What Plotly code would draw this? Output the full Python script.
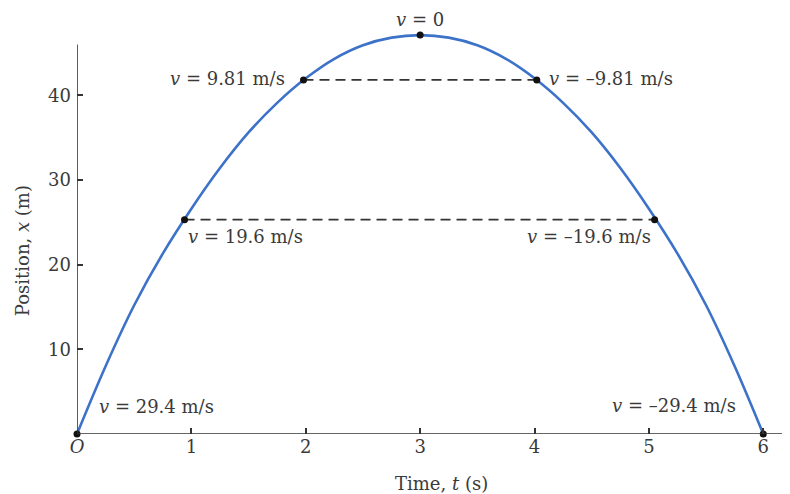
import plotly.graph_objects as go

# Curve samples
t_curve = [0, 0.25, 0.5, 0.75, 1.0, 1.25, 1.5, 1.75, 2.0, 2.25, 2.5, 2.75, 3.0,
           3.25, 3.5, 3.75, 4.0, 4.25, 4.5, 4.75, 5.0, 5.25, 5.5, 5.75, 6.0]
x_curve = [0, 8.0, 15.2, 21.3, 26.6, 31.4, 35.6, 39.1, 42.0, 44.3, 45.9, 46.8, 47.1,
           46.8, 45.9, 44.3, 42.0, 39.1, 35.6, 31.4, 26.6, 21.3, 15.2, 8.0, 0]

# Marked points
t_pts = [0, 0.94, 1.98, 3.0, 4.02, 5.05, 6.0]
x_pts = [0, 25.3, 41.8, 47.1, 41.8, 25.3, 0]
labels = ["<i>v</i> = 29.4 m/s", "<i>v</i> = 19.6 m/s", "<i>v</i> = 9.81 m/s",
          "<i>v</i> = 0", "<i>v</i> = –9.81 m/s", "<i>v</i> = –19.6 m/s",
          "<i>v</i> = –29.4 m/s"]

x_ticks = [0, 1, 2, 3, 4, 5, 6]
x_ticktext = ["<i>O</i>", "1", "2", "3", "4", "5", "6"]
y_ticks = [10, 20, 30, 40]
y_ticktext = ["10", "20", "30", "40"]

FONT = "DejaVu Serif, Liberation Serif, serif"
TXT = "#3a3a3a"
AX = "#333333"
FS = 18

fig = go.Figure()

# dashed connectors
for (i, j) in [(2, 4), (1, 5)]:
    fig.add_trace(go.Scatter(x=[t_pts[i], t_pts[j]], y=[x_pts[i], x_pts[j]], mode="lines",
                             line=dict(color=AX, width=1.8, dash="10px,6px"),
                             hoverinfo="skip", showlegend=False))

fig.add_trace(go.Scatter(x=t_curve, y=x_curve, mode="lines", line_shape="spline",
                         line=dict(color="#3d72c9", width=2.6), showlegend=False))

fig.add_trace(go.Scatter(x=t_pts, y=x_pts, mode="markers",
                         marker=dict(color="#111111", size=7), cliponaxis=False,
                         showlegend=False))

# label placement (anchor, shifts) per point
place = [
    dict(xanchor="left", yanchor="middle", xshift=20, yshift=28),
    dict(xanchor="left", yanchor="middle", xshift=1, yshift=-17),
    dict(xanchor="right", yanchor="middle", xshift=-16, yshift=1),
    dict(xanchor="center", yanchor="middle", xshift=0, yshift=16),
    dict(xanchor="left", yanchor="middle", xshift=10, yshift=1),
    dict(xanchor="right", yanchor="middle", xshift=-2, yshift=-17),
    dict(xanchor="right", yanchor="middle", xshift=-25, yshift=29),
]
for k in range(len(t_pts)):
    fig.add_annotation(x=t_pts[k], y=x_pts[k], text=labels[k], showarrow=False,
                       font=dict(family=FONT, size=FS, color=TXT), **place[k])

# y tick labels, placed on the y scale
for v, s in zip(y_ticks, y_ticktext):
    fig.add_annotation(x=0, xref="paper", y=v, yref="y", text=s, showarrow=False,
                       xanchor="right", yanchor="middle", xshift=-4,
                       font=dict(family=FONT, size=FS, color=TXT))

# axis lines
fig.add_shape(type="line", x0=0, x1=0, y0=0, y1=46, xref="x", yref="y",
              line=dict(color=AX, width=1.6))
fig.add_shape(type="line", x0=0, x1=1, y0=0, y1=0, xref="paper", yref="y",
              line=dict(color=AX, width=1.6))

# axis titles
fig.add_annotation(x=0.5155, y=-0.1206, xref="paper", yref="paper", text="Time, <i>t</i> (s)",
                   showarrow=False, xanchor="center", yanchor="middle",
                   font=dict(family=FONT, size=FS, color=TXT))
fig.add_annotation(x=-0.0777, y=0.4495, xref="paper", yref="paper", text="Position, <i>x</i> (m)",
                   showarrow=False, textangle=-90, xanchor="center", yanchor="middle",
                   font=dict(family=FONT, size=FS, color=TXT))

fig.update_layout(
    width=782, height=486,
    margin=dict(l=69, r=5, t=17, b=60),
    plot_bgcolor="white", paper_bgcolor="white",
    font=dict(family=FONT, size=FS, color=TXT),
    xaxis=dict(range=[0, 6.19], tickvals=x_ticks, ticktext=x_ticktext,
               ticks="inside", ticklen=6, tickwidth=1.5, tickcolor=AX,
               showgrid=False, zeroline=False, showline=False,
               tickfont=dict(family=FONT, size=FS, color=TXT)),
    yaxis=dict(range=[0, 48.29], tickvals=y_ticks, ticks="inside", ticklen=6,
               tickwidth=1.5, tickcolor=AX, showgrid=False, zeroline=False,
               showline=False, showticklabels=False),
)

fig.write_html("out.html")
